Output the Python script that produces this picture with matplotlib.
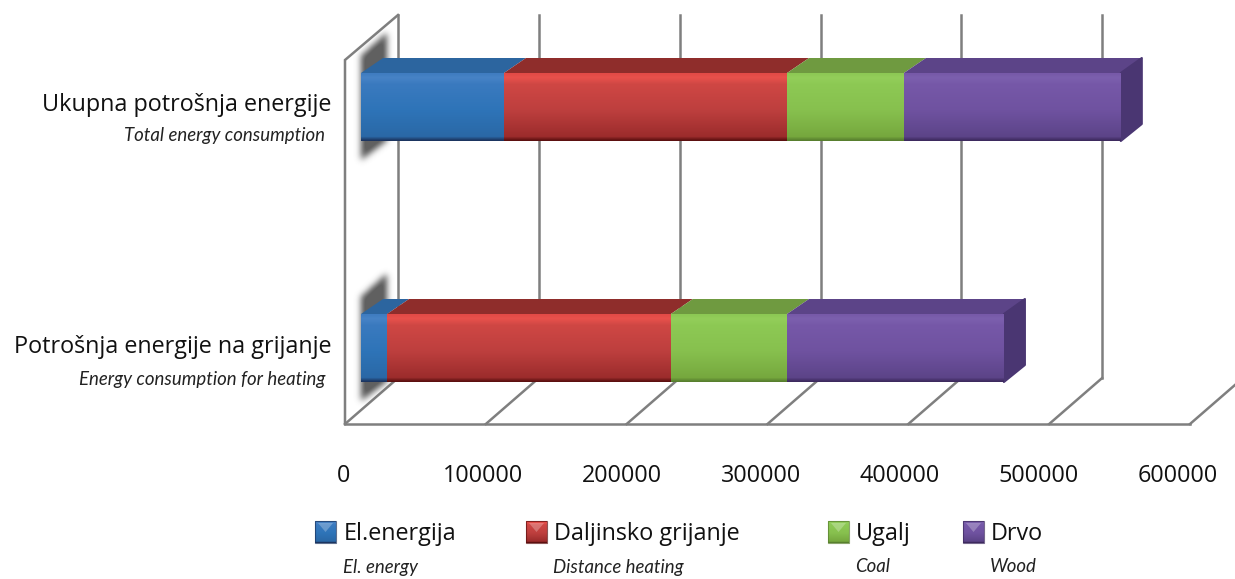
import numpy as np
import matplotlib
matplotlib.use('Agg')
import matplotlib.pyplot as plt
from matplotlib.colors import LinearSegmentedColormap
from matplotlib.patches import Polygon, Rectangle

categories = ['Ukupna potrošnja energije', 'Potrošnja energije na grijanje']
categories_en = ['Total energy consumption', 'Energy consumption for heating']
series = ['El.energija', 'Daljinsko grijanje', 'Ugalj', 'Drvo']
series_en = ['El. energy', 'Distance heating', 'Coal', 'Wood']
el_energija = [101500, 18500]
daljinsko = [201000, 201500]
ugalj = [83000, 82500]
drvo = [154000, 154000]
ticks = [0, 100000, 200000, 300000, 400000, 500000, 600000]

# front gradient (position, colour from top to bottom), top face per series
stops = [0, 0.06, 0.16, 0.55, 0.94, 1]
front_colors = [
    ['#3f7cc0', '#4783c6', '#3a7abf', '#2e74b8', '#2a68a6', '#1c3560'],
    ['#e24a46', '#e8514c', '#cf4744', '#bd3f3e', '#9c2c2c', '#5c1010'],
    ['#8cc854', '#93ce5a', '#8dc954', '#87c04e', '#76a83e', '#587f2e'],
    ['#7759a8', '#7c60ae', '#7658a8', '#6f52a0', '#5c4488', '#3d2a5e'],
]
top_colors = ['#2c659f', '#8f2d2b', '#6f9a40', '#5c4488']
side_color = '#4a3672'
grid_color = '#7f7f7f'

W, H = 1235, 579
scale = 845 / 600000      # pixels per unit
x0 = 345
depth_x, depth_y = 53, 46  # chart depth
bar_dx, bar_dy = 22, 15    # bar depth
bar_pad = 16               # bars start away from the wall
bar_tops = [73, 314]
bar_h = 68

main_font = ['Open Sans', 'DejaVu Sans']
sub_font = ['Lato', 'DejaVu Sans']
main_size = 16.8
sub_size = 13.4

plt.rcParams['font.family'] = main_font
fig = plt.figure(figsize=(W / 100, H / 100), dpi=100)
ax = fig.add_axes([0, 0, 1, 1])
ax.axis('off')


def px(p):
    # pixel offset from the chart origin to data units
    return p / scale


def bar_cmap(s):
    return LinearSegmentedColormap.from_list('bar%d' % s, list(zip(stops, front_colors[s])))


xlim = (-px(x0), px(W - x0))
floor_y = 424
wall_top = 15
lw = 1.8

# walls and gridlines
ax.plot([0, 0, px(depth_x)], [floor_y, 60, wall_top], color=grid_color, lw=lw, zorder=1, solid_joinstyle='miter')
ax.plot([0, 600000], [floor_y, floor_y], color=grid_color, lw=lw, zorder=1)
for t in ticks:
    ax.plot([t, t + px(depth_x)], [floor_y, floor_y - depth_y], color=grid_color, lw=lw, zorder=1)
    ax.plot([t + px(depth_x)] * 2, [floor_y - depth_y, wall_top], color=grid_color, lw=lw, zorder=1)

# soft shadow of the bars on the side wall
for top in bar_tops:
    sx = np.arange(325, 425)
    sy = np.arange(top - 75, top + 125)
    xx, yy = np.meshgrid(sx, sy)
    inside = (xx >= 361) & (xx <= 386) & (yy >= top - 38 + (383 - xx) * 0.9) & (yy <= top + 86 - (xx - 361) * 0.75)
    mask = inside.astype(float)
    kernel = np.exp(-np.linspace(-2.2, 2.2, 21) ** 2)
    kernel /= kernel.sum()
    mask = np.apply_along_axis(lambda r: np.convolve(r, kernel, mode='same'), 0, mask)
    mask = np.apply_along_axis(lambda r: np.convolve(r, kernel, mode='same'), 1, mask)
    rgba = np.zeros(mask.shape + (4,))
    rgba[..., :3] = 0.38
    rgba[..., 3] = np.clip(mask * 1.1, 0, 1)
    ax.imshow(rgba, extent=[px(325 - x0), px(425 - x0), top + 125, top - 75], aspect='auto', zorder=2)

# stacked 3d bars
values = [el_energija, daljinsko, ugalj, drvo]
for row, top in enumerate(bar_tops):
    left = px(bar_pad)
    bottom = top + bar_h
    for s, vals in enumerate(values):
        right = left + vals[row]
        grad = np.linspace(0, 1, 68).reshape(-1, 1)
        ax.imshow(grad, cmap=bar_cmap(s), extent=[left, right, bottom, top], aspect='auto', zorder=4, interpolation='bilinear')
        ax.add_patch(Polygon([(left, top), (left + px(bar_dx), top - bar_dy),
                              (right + px(bar_dx), top - bar_dy), (right, top)],
                             closed=True, fc=top_colors[s], ec='none', zorder=3))
        left = right
    ax.add_patch(Polygon([(left, top), (left + px(bar_dx - 1), top - bar_dy),
                          (left + px(bar_dx - 1), bottom - bar_dy - 2), (left, bottom)],
                         closed=True, fc=side_color, ec=side_color, lw=1.5, joinstyle='round', zorder=3))

# category labels
label_y = [105, 347]
sub_y = [135, 380]
for i in range(len(categories)):
    ax.text(px(331 - x0), label_y[i], categories[i], ha='right', va='center', fontsize=main_size, color='#111111')
    ax.text(px(325 - x0), sub_y[i], categories_en[i], ha='right', va='center', fontsize=sub_size,
            style='italic', color='#222222', family=sub_font)

# value labels sit slightly tighter than the gridlines
for t in ticks:
    ax.text(px(344 - x0) + t * 139 / 100000 / scale, 476, str(t), ha='center', va='center',
            fontsize=main_size, color='#111111')

# legend
swatch_x = [315, 526, 828, 963]
text_x = [344, 554, 856, 991]
for s in range(len(series)):
    sx0, sx1 = px(swatch_x[s] - x0), px(swatch_x[s] + 21 - x0)
    ax.imshow(np.linspace(0, 1, 22).reshape(-1, 1), cmap=bar_cmap(s), extent=[sx0, sx1, 543, 521], aspect='auto', zorder=3)
    ax.add_patch(Polygon([(sx0 + px(3), 523), (sx1 - px(3), 523), ((sx0 + sx1) / 2, 532)],
                         closed=True, fc='white', alpha=0.25, ec='none', zorder=4))
    ax.add_patch(Rectangle((sx0, 521), sx1 - sx0, 22, fc='none', ec=front_colors[s][5], lw=0.8, alpha=0.7, zorder=5))
    ax.text(px(text_x[s] - x0), 534, series[s], ha='left', va='center', fontsize=main_size, color='#111111')
    ax.text(px(text_x[s] - 1 - x0), 567, series_en[s], ha='left', va='center', fontsize=sub_size,
            style='italic', color='#222222', family=sub_font)

ax.set_xlim(xlim)
ax.set_ylim(H, 0)
fig.savefig('out.png', dpi=100, facecolor='white')
